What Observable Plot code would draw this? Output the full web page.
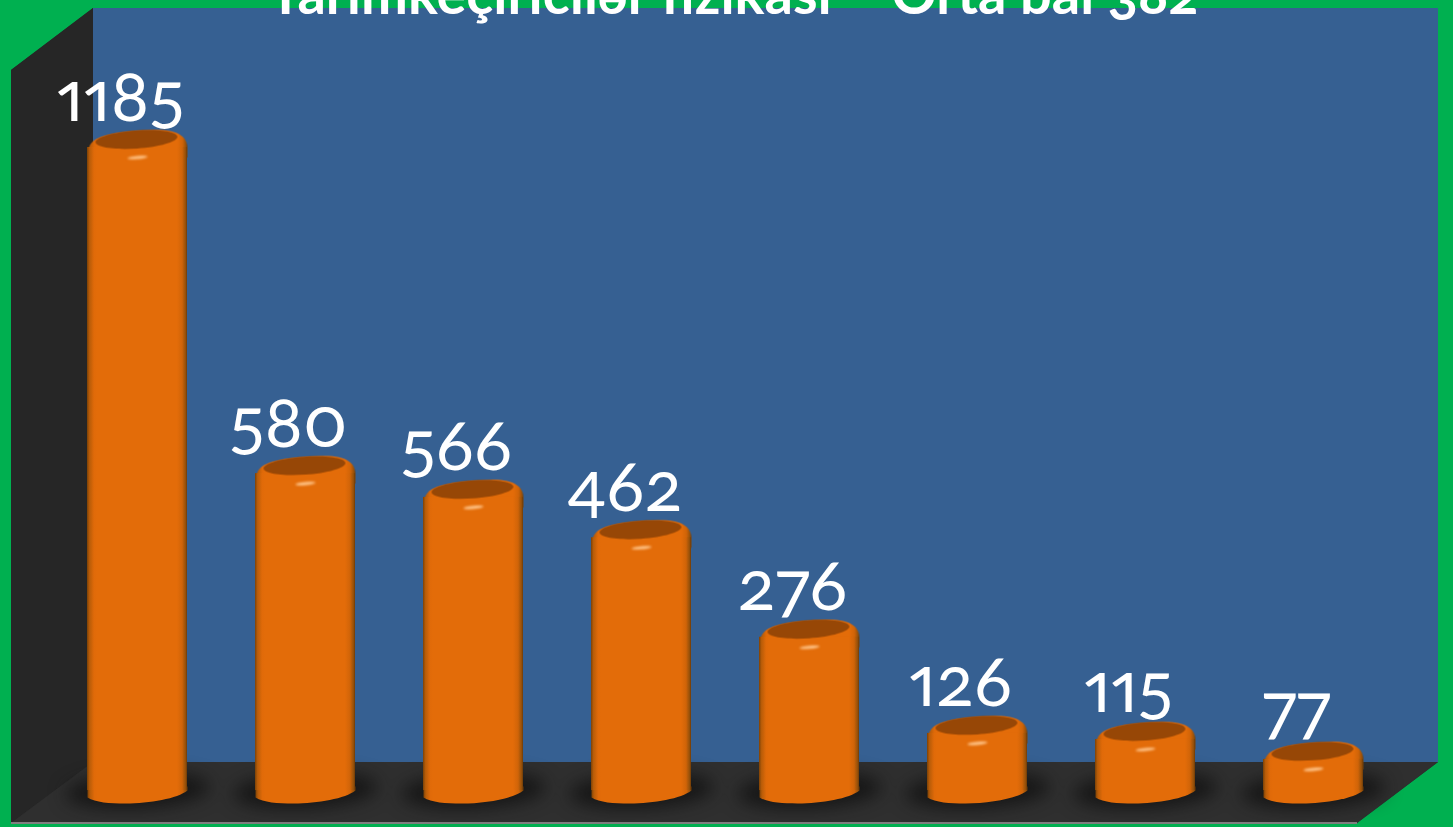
<!DOCTYPE html>
<html><head><meta charset="utf-8">
<script src="https://cdn.jsdelivr.net/npm/d3@7"></script>
<script src="https://cdn.jsdelivr.net/npm/@observablehq/plot@0.6"></script>
<style>
html,body{margin:0;padding:0;background:#00b050;overflow:hidden}
svg{display:block}
.shadow{filter:blur(9px)}
.glint{filter:blur(0.8px)}
.soft{filter:blur(0.5px)}
.num{font-variant-numeric:oldstyle-nums;font-feature-settings:"onum" 1}
.lab{font-variant-numeric:oldstyle-nums proportional-nums;font-feature-settings:"onum" 1,"pnum" 1}
</style></head><body><div id="c"></div>
<script>
const categories = ["1","2","3","4","5","6","7","8"];
const labels = [1185,580,566,462,276,126,115,77];
const drawnHeights = [1185,595,552,479,299,125,114,78];
const titleText = "Yarımkeçiricilər fizikası – Orta bal 382";
const rows = categories.map((c,i)=>({c,label:labels[i],h:drawnHeights[i],h0:0}));

function ellipse(rx,ry,deg,ox=0,oy=0){
  const t=deg*Math.PI/180,k=.5523,c=Math.cos(t),s=Math.sin(t);
  const p=(x,y)=>[ox+x*c-y*s,oy+x*s+y*c];
  return {draw(ctx){
    ctx.moveTo(...p(rx,0));
    ctx.bezierCurveTo(...p(rx,k*ry),...p(k*rx,ry),...p(0,ry));
    ctx.bezierCurveTo(...p(-k*rx,ry),...p(-rx,k*ry),...p(-rx,0));
    ctx.bezierCurveTo(...p(-rx,-k*ry),...p(-k*rx,-ry),...p(0,-ry));
    ctx.bezierCurveTo(...p(k*rx,-ry),...p(rx,-k*ry),...p(rx,0));
    ctx.closePath();
  }};
}
const capShape={draw(ctx){
  ctx.moveTo(-50,18);
  ctx.bezierCurveTo(-50,5,-46,0,-32,-4);
  ctx.bezierCurveTo(-18,-8,0,-9,18,-9.5);
  ctx.bezierCurveTo(40,-10,50,-3,50,9);
  ctx.lineTo(50,18);
  ctx.closePath();
}};
const footShape={draw(ctx){
  ctx.moveTo(-50,-8);
  ctx.lineTo(-50,3);
  ctx.bezierCurveTo(-42,8,-28,9,-12,9);
  ctx.bezierCurveTo(12,9,40,4,50,-4);
  ctx.lineTo(50,-8);
  ctx.closePath();
}};
function scene(){
  const g=d3.create("svg:g");
  const defs=g.append("defs");
  const lg=defs.append("linearGradient").attr("id","body");
  [[0,"#7d4206"],[.025,"#b85c08"],[.07,"#e06a09"],[.1,"#e36c09"],[.9,"#e36c09"],[.95,"#d06408"],[.985,"#95500a"],[1,"#6f3b06"]]
    .forEach(([o,c])=>lg.append("stop").attr("offset",o).attr("stop-color",c));
  const poly=(pts,fill)=>g.append("polygon").attr("points",pts).attr("fill",fill);
  poly("93,8 1438,8 1438,762 93,762","#366092");
  poly("93,8 11,70 11,823 1357,823 1438,762 93,762","#2a2a2a");
  poly("93,8 11,70 11,823 93,762","#262626");
  poly("93,762 1438,762 1357,823 11,823","#2f2f2f");
  g.append("rect").attr("x",11).attr("y",822).attr("width",1346).attr("height",2).attr("fill","#7f7f7f");
  return g.node();
}
const plot = Plot.plot({
  width:1453,height:827,margin:0,
  style:{background:"transparent",overflow:"visible"},
  x:{domain:categories,range:[18.9,1432],padding:.405,axis:null},
  y:{domain:[0,1185],range:[794,139],axis:null},
  marks:[
    scene,
    Plot.dot(rows,{x:"c",y:"h0",r:1,dy:-4,symbol:ellipse(72,17,-3),fill:"#0c0c0c",fillOpacity:.75,className:"shadow"}),
    Plot.dot(rows,{x:"c",y:"h",r:1,symbol:capShape,fill:"url(#body)",className:"soft"}),
    Plot.dot(rows,{x:"c",y:"h0",r:1,symbol:footShape,fill:"url(#body)"}),
    Plot.barY(rows,{x:"c",y1:0,y2:"h",insetTop:8,insetBottom:4,fill:"url(#body)"}),
    Plot.dot(rows,{x:"c",y:"h",r:1,symbol:ellipse(41,9,-4,-1,0),fill:"#974706",className:"soft"}),
    Plot.dot(rows,{x:"c",y:"h",r:1,symbol:ellipse(10,1.6,-5,0,18),fill:"#ffc58a",className:"glint"}),
    Plot.text(rows,{x:"c",y:"h",text:d=>String(d.label),dx:-17,dy:-19,lineAnchor:"bottom",textAnchor:"middle",fill:"white",fontSize:70,fontFamily:"Lato, 'Open Sans', sans-serif",className:"lab"}),
    Plot.text([titleText],{frameAnchor:"top",dx:6,dy:13,lineAnchor:"bottom",text:d=>d,fill:"white",fontSize:56,fontWeight:700,fontFamily:"Lato, 'Open Sans', sans-serif",className:"num"})
  ]
});
document.getElementById("c").append(plot);
</script></body></html>
